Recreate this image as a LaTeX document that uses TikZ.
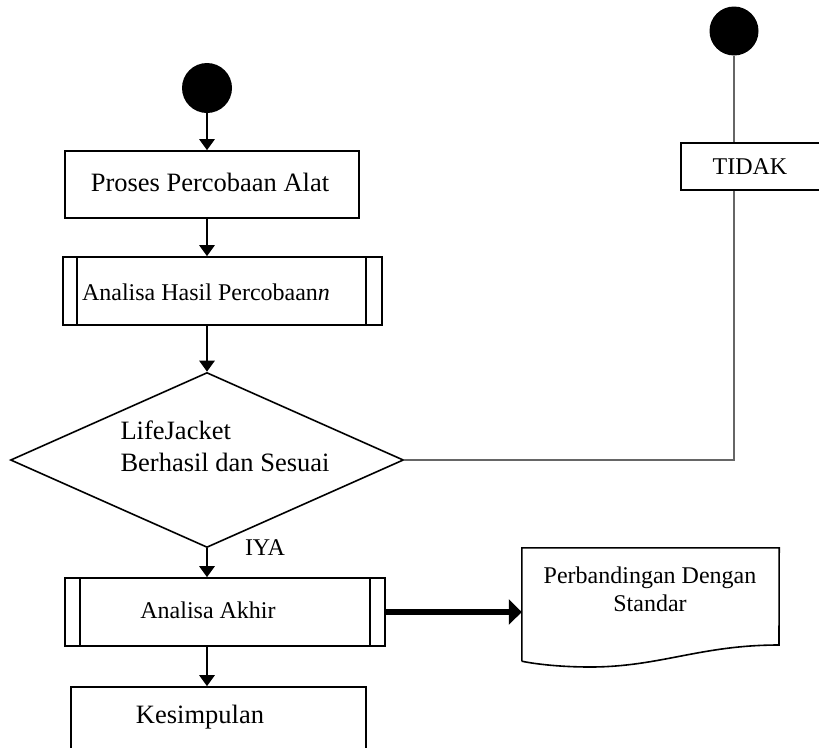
\documentclass[tikz,border=0pt]{standalone}
\usepackage{fontspec}
\setmainfont{Liberation Serif}
\usetikzlibrary{arrows.meta,shapes.geometric}
\begin{document}
\begin{tikzpicture}[x=1pt,y=-1pt,
  box/.style={draw,line width=1.6pt,rectangle,inner sep=0pt},
  flow/.style={line width=2.8pt,-{Triangle[width=15pt,length=11pt]}},
  bigflow/.style={line width=6pt,-{Triangle[width=25pt,length=13pt]}},
  thinline/.style={draw=black!60,line width=1.3pt},
  dot/.style={circle,fill=black,inner sep=0pt},
  big/.style={font=\fontsize{26.5}{31.8}\selectfont},
  small/.style={font=\fontsize{24}{28}\selectfont}]
\useasboundingbox (0,0) rectangle (819,747);

% left start
\node[dot,minimum size=50pt] (s1) at (207,88) {};
\node[box,minimum width=294pt,minimum height=67pt] (b1) at (212,184.5) {};
\node[big] (t1) at (210,182) {Proses Percobaan Alat};

\node[box,minimum width=319pt,minimum height=68pt] (b2) at (222.5,291) {};
\draw[line width=1.6pt] ([xshift=15pt]b2.north west) -- ([xshift=15pt]b2.south west);
\draw[line width=1.6pt] ([xshift=-17pt]b2.north east) -- ([xshift=-17pt]b2.south east);
\node[small] (t2) at (206,292) {Analisa Hasil Percobaan\textit{n}};

\node[diamond,draw,line width=1.6pt,inner sep=0pt,minimum width=393pt,minimum height=175pt] (dia) at (207,460) {};
\node[big,align=left,anchor=west] (t3) at (117,446) {LifeJacket\\Berhasil dan Sesuai};
\node[small] (iya) at (265,548) {IYA};

\node[box,minimum width=320pt,minimum height=68pt] (b3) at (225,612) {};
\draw[line width=1.6pt] ([xshift=16pt]b3.north west) -- ([xshift=16pt]b3.south west);
\draw[line width=1.6pt] ([xshift=-16pt]b3.north east) -- ([xshift=-16pt]b3.south east);
\node[small] (t4) at (208,610) {Analisa Akhir};

\node[box,minimum width=295pt,minimum height=82pt] (kes) at (218.5,728) {};
\node[big] (t5) at (200,717) {Kesimpulan};

% document
\node[minimum width=257pt,minimum height=113pt,inner sep=0pt] (doc) at (650.5,604.5) {};
\draw[line width=1.6pt] (doc.south west) -- (doc.north west) -- (doc.north east) -- (779,645)
  .. controls (700,645) and (660,667) .. (590,667)
  .. controls (560,667) and (535,664) .. (doc.south west);
\node[small,align=center] (t6) at (650,589) {Perbandingan Dengan\\Standar};

% right branch
\node[dot,minimum size=49pt] (s2) at (734,31) {};
\node[box,minimum width=143pt,minimum height=47pt] (tdk) at (752.5,166.5) {};
\node[small] (t7) at (750,167) {TIDAK};

% connectors
\draw[flow] (s1.south) -- (s1 |- b1.north);
\draw[flow] (s1 |- b1.south) -- (s1 |- b2.north);
\draw[flow] (s1 |- b2.south) -- (dia.north);
\draw[flow] (dia.south) -- (s1 |- b3.north);
\draw[flow] (s1 |- b3.south) -- (s1 |- kes.north);
\draw[bigflow] (b3.east) -- (b3.east -| doc.west);
\draw[thinline] (s2.south) -- (s2 |- tdk.north);
\draw[thinline] (dia.east) -| (s2 |- tdk.south);
\end{tikzpicture}
\end{document}
